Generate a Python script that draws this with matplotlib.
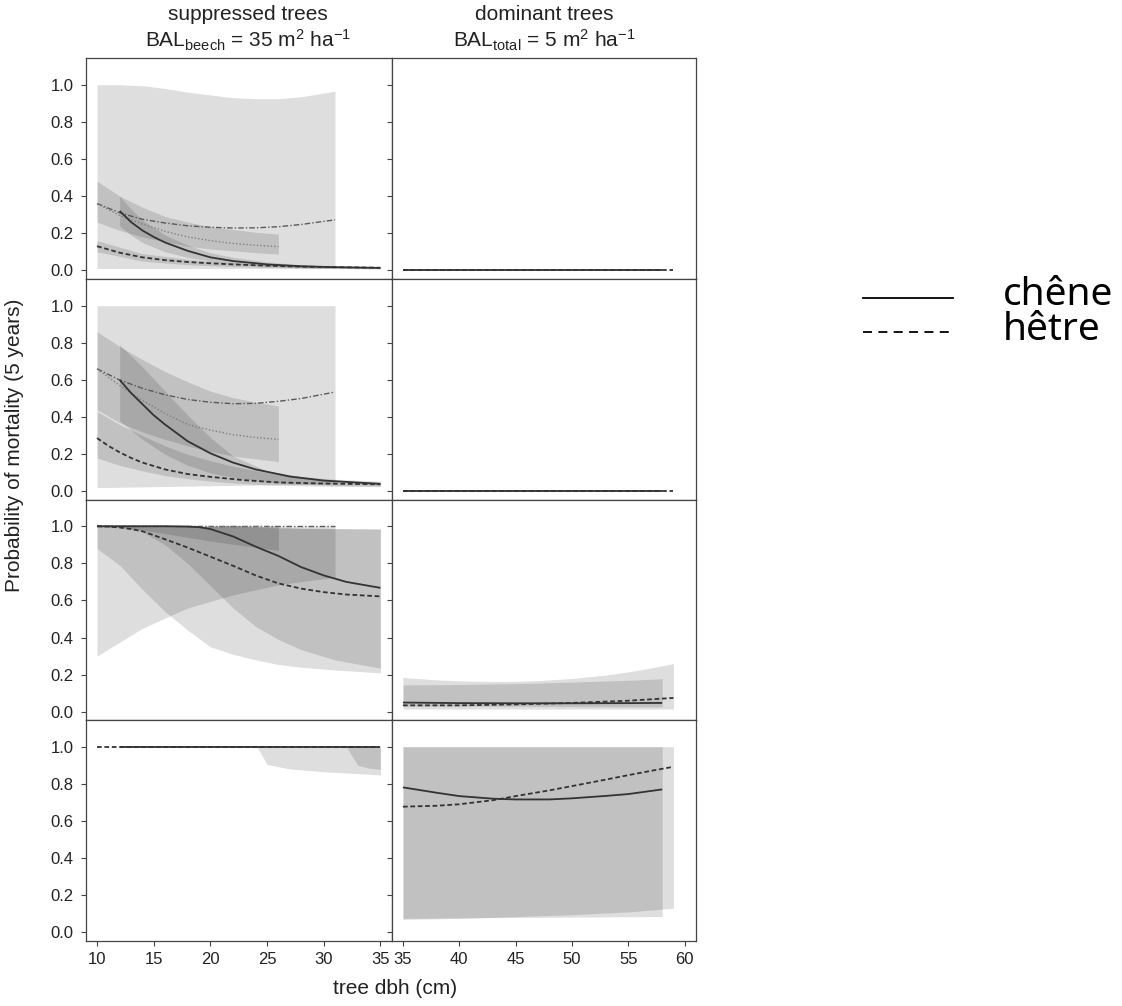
import matplotlib
matplotlib.use("Agg")
import matplotlib.pyplot as plt

plt.rcParams['font.family'] = ['Liberation Sans', 'DejaVu Sans']
plt.rcParams['mathtext.fontset'] = 'custom'
plt.rcParams['mathtext.rm'] = 'Liberation Sans'
plt.rcParams['mathtext.it'] = 'Liberation Sans:italic'

# ---- row 1, suppressed (left) ----
r1l_dd_band_x = [10, 12, 14, 16, 18, 20, 22, 24, 26, 28, 31]
r1l_dd_band_hi = [1.0, 1.0, 0.995, 0.98, 0.96, 0.945, 0.93, 0.925, 0.925, 0.935, 0.965]
r1l_dd_band_lo = [0.01, 0.01, 0.01, 0.01, 0.01, 0.01, 0.01, 0.01, 0.01, 0.01, 0.01]
r1l_dd_y = [0.36, 0.31, 0.275, 0.255, 0.24, 0.232, 0.228, 0.229, 0.235, 0.247, 0.272]
r1l_dot_x = [10, 12, 14, 16, 18, 20, 22, 24, 26]
r1l_dot_hi = [0.48, 0.40, 0.34, 0.29, 0.26, 0.235, 0.22, 0.205, 0.195]
r1l_dot_lo = [0.26, 0.215, 0.18, 0.155, 0.13, 0.115, 0.105, 0.095, 0.088]
r1l_dot_y = [0.36, 0.295, 0.25, 0.21, 0.18, 0.16, 0.145, 0.135, 0.128]
r1l_sol_band_x = [12, 13, 14, 16, 18, 20, 22, 25, 28, 31, 35]
r1l_sol_hi = [0.40, 0.33, 0.27, 0.19, 0.135, 0.095, 0.07, 0.045, 0.03, 0.022, 0.016]
r1l_sol_lo = [0.24, 0.19, 0.15, 0.10, 0.07, 0.05, 0.035, 0.022, 0.015, 0.011, 0.008]
r1l_sol_x = [12, 13, 14, 15, 16, 18, 20, 22, 25, 28, 31, 35]
r1l_sol_y = [0.32, 0.26, 0.215, 0.18, 0.15, 0.105, 0.07, 0.05, 0.032, 0.022, 0.017, 0.013]
r1l_das_band_x = [10, 14, 18, 22, 26, 30, 35]
r1l_das_hi = [0.16, 0.09, 0.06, 0.04, 0.03, 0.025, 0.02]
r1l_das_lo = [0.10, 0.05, 0.03, 0.02, 0.015, 0.01, 0.008]
r1l_das_x = [10, 12, 14, 16, 18, 20, 22, 25, 28, 31, 35]
r1l_das_y = [0.13, 0.095, 0.07, 0.055, 0.045, 0.038, 0.032, 0.025, 0.02, 0.017, 0.014]

# ---- row 2, suppressed ----
r2l_dd_band_x = [10, 20, 31]
r2l_dd_band_hi = [1.0, 1.0, 1.0]
r2l_dd_band_lo = [0.02, 0.03, 0.04]
r2l_dd_x = [10, 12, 14, 16, 18, 20, 22, 24, 26, 28, 31]
r2l_dd_y = [0.66, 0.60, 0.555, 0.52, 0.495, 0.48, 0.472, 0.474, 0.485, 0.50, 0.535]
r2l_dot_x = [10, 12, 14, 16, 18, 20, 22, 24, 26]
r2l_dot_hi = [0.86, 0.78, 0.71, 0.645, 0.59, 0.54, 0.505, 0.48, 0.46]
r2l_dot_lo = [0.44, 0.37, 0.32, 0.28, 0.245, 0.215, 0.19, 0.175, 0.16]
r2l_dot_y = [0.66, 0.57, 0.49, 0.42, 0.36, 0.33, 0.305, 0.29, 0.28]
r2l_sol_band_x = [12, 14, 16, 18, 20, 22, 25, 28, 31, 35]
r2l_sol_hi = [0.79, 0.67, 0.54, 0.41, 0.29, 0.19, 0.11, 0.08, 0.065, 0.055]
r2l_sol_lo = [0.38, 0.28, 0.20, 0.14, 0.10, 0.075, 0.05, 0.038, 0.032, 0.028]
r2l_sol_x = [12, 13, 14, 15, 16, 18, 20, 22, 24, 27, 30, 35]
r2l_sol_y = [0.60, 0.53, 0.47, 0.41, 0.36, 0.27, 0.205, 0.155, 0.118, 0.08, 0.058, 0.04]
r2l_das_band_x = [10, 12, 14, 16, 18, 20, 22, 25, 28, 31, 35]
r2l_das_hi = [0.43, 0.36, 0.30, 0.245, 0.20, 0.165, 0.135, 0.10, 0.075, 0.06, 0.05]
r2l_das_lo = [0.18, 0.14, 0.11, 0.085, 0.068, 0.055, 0.045, 0.035, 0.03, 0.027, 0.025]
r2l_das_x = [10, 11, 12, 13, 14, 16, 18, 20, 23, 26, 30, 35]
r2l_das_y = [0.287, 0.245, 0.21, 0.18, 0.155, 0.118, 0.093, 0.078, 0.06, 0.048, 0.042, 0.038]

# ---- row 3, suppressed ----
r3l_dd_band_x = [10, 14, 18, 22, 26, 31]
r3l_dd_band_hi = [1.0, 1.0, 1.0, 1.0, 1.0, 1.0]
r3l_dd_band_lo = [0.30, 0.45, 0.56, 0.63, 0.685, 0.725]
r3l_dd_x = [10, 31]
r3l_dd_y = [1.0, 1.0]
r3l_dot_x = [10, 12, 14, 17, 20, 23, 26]
r3l_dot_hi = [1.0, 1.0, 1.0, 1.0, 1.0, 1.0, 1.0]
r3l_dot_lo = [1.0, 0.995, 0.98, 0.95, 0.92, 0.895, 0.87]
r3l_dot_y = [1.0, 1.0, 1.0, 1.0, 1.0, 1.0, 1.0]
r3l_band_x = [10, 12, 14, 16, 18, 20, 22, 24, 26, 28, 31, 35]
r3l_sol_hi = [1.0, 1.0, 1.0, 1.0, 1.0, 1.0, 0.999, 0.998, 0.995, 0.99, 0.988, 0.985]
r3l_sol_lo = [1.0, 0.995, 0.97, 0.90, 0.80, 0.68, 0.56, 0.46, 0.39, 0.335, 0.28, 0.235]
r3l_das_hi = [1.0, 1.0, 1.0, 1.0, 1.0, 1.0, 1.0, 0.995, 0.99, 0.988, 0.986, 0.985]
r3l_das_lo = [0.88, 0.79, 0.66, 0.54, 0.44, 0.35, 0.31, 0.28, 0.255, 0.24, 0.225, 0.21]
r3l_sol_x = [10, 12, 14, 16, 18, 19, 20, 22, 24, 26, 28, 30, 32, 35]
r3l_sol_y = [1.0, 1.0, 1.0, 1.0, 0.998, 0.995, 0.985, 0.945, 0.89, 0.84, 0.78, 0.735, 0.70, 0.668]
r3l_das_x = [10, 11, 12, 13, 14, 16, 18, 20, 22, 24, 26, 28, 30, 32, 35]
r3l_das_y = [1.0, 0.998, 0.993, 0.985, 0.973, 0.93, 0.885, 0.836, 0.787, 0.735, 0.692, 0.664, 0.645, 0.632, 0.622]

# ---- row 4, suppressed ----
r4l_light_x = [24.1, 25, 27, 30, 33, 35]
r4l_light_hi = [1.0, 1.0, 1.0, 1.0, 1.0, 1.0]
r4l_light_lo = [1.0, 0.905, 0.88, 0.865, 0.855, 0.848]
r4l_dark_x = [32, 33, 34, 35]
r4l_dark_hi = [1.0, 1.0, 1.0, 1.0]
r4l_dark_lo = [1.0, 0.90, 0.885, 0.878]
r4l_sol_x = [12, 35]
r4l_sol_y = [1.0, 1.0]
r4l_das_x = [10, 35]
r4l_das_y = [1.0, 1.0]

# ---- dominant (right) rows 1 and 2 ----
r12r_sol_x = [35, 58]
r12r_sol_y = [0.004, 0.004]
r12r_das_x = [35, 59]
r12r_das_y = [0.004, 0.004]

# ---- row 3, dominant ----
r3r_das_band_x = [35, 38, 41, 44, 47, 50, 53, 56, 59]
r3r_das_hi = [0.185, 0.172, 0.165, 0.163, 0.168, 0.18, 0.198, 0.225, 0.26]
r3r_das_lo = [0.015, 0.015, 0.015, 0.015, 0.015, 0.015, 0.015, 0.015, 0.015]
r3r_sol_band_x = [35, 40, 45, 50, 55, 58]
r3r_sol_hi = [0.145, 0.147, 0.152, 0.16, 0.17, 0.178]
r3r_sol_lo = [0.03, 0.03, 0.03, 0.028, 0.027, 0.027]
r3r_sol_x = [35, 40, 45, 50, 55, 58]
r3r_sol_y = [0.05, 0.047, 0.046, 0.046, 0.047, 0.048]
r3r_das_x = [35, 40, 45, 50, 55, 59]
r3r_das_y = [0.035, 0.035, 0.04, 0.048, 0.06, 0.075]

# ---- row 4, dominant ----
r4r_das_band_x = [35, 40, 45, 50, 55, 59]
r4r_das_hi = [1.0, 1.0, 1.0, 1.0, 1.0, 1.0]
r4r_das_lo = [0.07, 0.075, 0.085, 0.095, 0.11, 0.13]
r4r_sol_band_x = [35, 40, 45, 50, 55, 58]
r4r_sol_hi = [1.0, 1.0, 1.0, 1.0, 1.0, 1.0]
r4r_sol_lo = [0.075, 0.078, 0.08, 0.082, 0.084, 0.085]
r4r_sol_x = [35, 38, 40, 43, 45, 48, 50, 53, 55, 58]
r4r_sol_y = [0.781, 0.752, 0.734, 0.72, 0.716, 0.716, 0.722, 0.735, 0.745, 0.77]
r4r_das_x = [35, 38, 40, 43, 45, 48, 50, 53, 55, 57, 59]
r4r_das_y = [0.677, 0.682, 0.69, 0.712, 0.734, 0.765, 0.788, 0.823, 0.847, 0.87, 0.892]

left_ticks = [10, 15, 20, 25, 30, 35]
right_ticks = [35, 40, 45, 50, 55, 60]
y_ticks = [0.0, 0.2, 0.4, 0.6, 0.8, 1.0]
y_ticklabels = ['0.0', '0.2', '0.4', '0.6', '0.8', '1.0']

W, H = 1122, 1006
fig = plt.figure(figsize=(W / 100, H / 100), dpi=100)


def px_axes(x0, y0, w, h):
    return fig.add_axes([x0 / W, 1 - (y0 + h) / H, w / W, h / H])


def band(ax, x, lo, hi):
    ax.fill_between(x, lo, hi, color='black', alpha=0.13, linewidth=0)


def solid(ax, x, y):
    ax.plot(x, y, color='#333333', lw=1.3, solid_capstyle='butt')


def dashed(ax, x, y):
    ax.plot(x, y, color='#333333', lw=1.3, ls=(0, (2.6, 1.5)))


def dashdot(ax, x, y):
    ax.plot(x, y, color='#5a5a5a', lw=1.0, ls=(0, (4, 1.5, 1, 1.5)))


def dotted(ax, x, y):
    ax.plot(x, y, color='#808080', lw=1.0, ls=(0, (1, 1.5)))


row_tops = [58, 279, 499.5, 720]
row_h = 220.5
axes = []
for i, top in enumerate(row_tops):
    axl = px_axes(85.7, top, 306, row_h)
    axr = px_axes(391.7, top, 304.3, row_h)
    for ax, xl, xt in [(axl, (9, 36), left_ticks), (axr, (34, 61), right_ticks)]:
        ax.set_xlim(*xl)
        ax.set_ylim(-0.044, 1.144)
        ax.set_xticks(xt)
        ax.set_yticks(y_ticks)
        ax.tick_params(direction='out', length=3.6, width=0.8, color='#444444',
                       labelsize=12, labelcolor='#222222', pad=5)
        for s in ax.spines.values():
            s.set_color('#444444')
            s.set_linewidth(0.9)
        if i < 3:
            ax.set_xticklabels([])
    axl.set_yticklabels(y_ticklabels)
    axr.set_yticklabels([])
    axes.append((axl, axr))

# row 1
ax = axes[0][0]
band(ax, r1l_dd_band_x, r1l_dd_band_lo, r1l_dd_band_hi)
band(ax, r1l_dot_x, r1l_dot_lo, r1l_dot_hi)
band(ax, r1l_sol_band_x, r1l_sol_lo, r1l_sol_hi)
band(ax, r1l_das_band_x, r1l_das_lo, r1l_das_hi)
dashdot(ax, r1l_dd_band_x, r1l_dd_y)
dotted(ax, r1l_dot_x, r1l_dot_y)
solid(ax, r1l_sol_x, r1l_sol_y)
dashed(ax, r1l_das_x, r1l_das_y)

# row 2
ax = axes[1][0]
band(ax, r2l_dd_band_x, r2l_dd_band_lo, r2l_dd_band_hi)
band(ax, r2l_dot_x, r2l_dot_lo, r2l_dot_hi)
band(ax, r2l_sol_band_x, r2l_sol_lo, r2l_sol_hi)
band(ax, r2l_das_band_x, r2l_das_lo, r2l_das_hi)
dashdot(ax, r2l_dd_x, r2l_dd_y)
dotted(ax, r2l_dot_x, r2l_dot_y)
solid(ax, r2l_sol_x, r2l_sol_y)
dashed(ax, r2l_das_x, r2l_das_y)

# row 3
ax = axes[2][0]
band(ax, r3l_dd_band_x, r3l_dd_band_lo, r3l_dd_band_hi)
band(ax, r3l_dot_x, r3l_dot_lo, r3l_dot_hi)
band(ax, r3l_band_x, r3l_sol_lo, r3l_sol_hi)
band(ax, r3l_band_x, r3l_das_lo, r3l_das_hi)
dashdot(ax, r3l_dd_x, r3l_dd_y)
dotted(ax, r3l_dot_x, r3l_dot_y)
solid(ax, r3l_sol_x, r3l_sol_y)
dashed(ax, r3l_das_x, r3l_das_y)

# row 4
ax = axes[3][0]
band(ax, r4l_light_x, r4l_light_lo, r4l_light_hi)
band(ax, r4l_dark_x, r4l_dark_lo, r4l_dark_hi)
solid(ax, r4l_sol_x, r4l_sol_y)
dashed(ax, r4l_das_x, r4l_das_y)

# dominant column
for k in (0, 1):
    ax = axes[k][1]
    solid(ax, r12r_sol_x, r12r_sol_y)
    dashed(ax, r12r_das_x, r12r_das_y)

ax = axes[2][1]
band(ax, r3r_das_band_x, r3r_das_lo, r3r_das_hi)
band(ax, r3r_sol_band_x, r3r_sol_lo, r3r_sol_hi)
solid(ax, r3r_sol_x, r3r_sol_y)
dashed(ax, r3r_das_x, r3r_das_y)

ax = axes[3][1]
band(ax, r4r_das_band_x, r4r_das_lo, r4r_das_hi)
band(ax, r4r_sol_band_x, r4r_sol_lo, r4r_sol_hi)
solid(ax, r4r_sol_x, r4r_sol_y)
dashed(ax, r4r_das_x, r4r_das_y)

# column titles
fig.text(248 / W, 1 - 14 / H, 'suppressed trees', ha='center', va='center', fontsize=15, color='#222222')
fig.text(248 / W, 1 - 40 / H, r'BAL$_{\mathrm{beech}}$ = 35 m$^{2}$ ha$^{-1}$', ha='center', va='center',
         fontsize=15, color='#222222')
fig.text(544 / W, 1 - 14 / H, 'dominant trees', ha='center', va='center', fontsize=15, color='#222222')
fig.text(544 / W, 1 - 40 / H, r'BAL$_{\mathrm{total}}$ = 5 m$^{2}$ ha$^{-1}$', ha='center', va='center',
         fontsize=15, color='#222222')

# axis labels
fig.text(395 / W, 1 - 988 / H, 'tree dbh (cm)', ha='center', va='center', fontsize=15, color='#222222')
fig.text(15 / W, 1 - 445 / H, 'Probability of mortality (5 years)', ha='center', va='center',
         rotation=90, fontsize=15, color='#222222')

# legend
fig.add_artist(plt.Line2D([863 / W, 953 / W], [1 - 298 / H, 1 - 298 / H], color='black', lw=1.3))
fig.add_artist(plt.Line2D([863 / W, 953 / W], [1 - 332 / H, 1 - 332 / H], color='black', lw=1.3,
                          ls=(0, (5, 3.5))))
fig.text(1003 / W, 1 - 305 / H, 'chêne', ha='left', va='baseline', fontsize=28, family='Noto Sans')
fig.text(1003 / W, 1 - 340 / H, 'hêtre', ha='left', va='baseline', fontsize=28, family='Noto Sans')

fig.savefig('out.png', dpi=100)
